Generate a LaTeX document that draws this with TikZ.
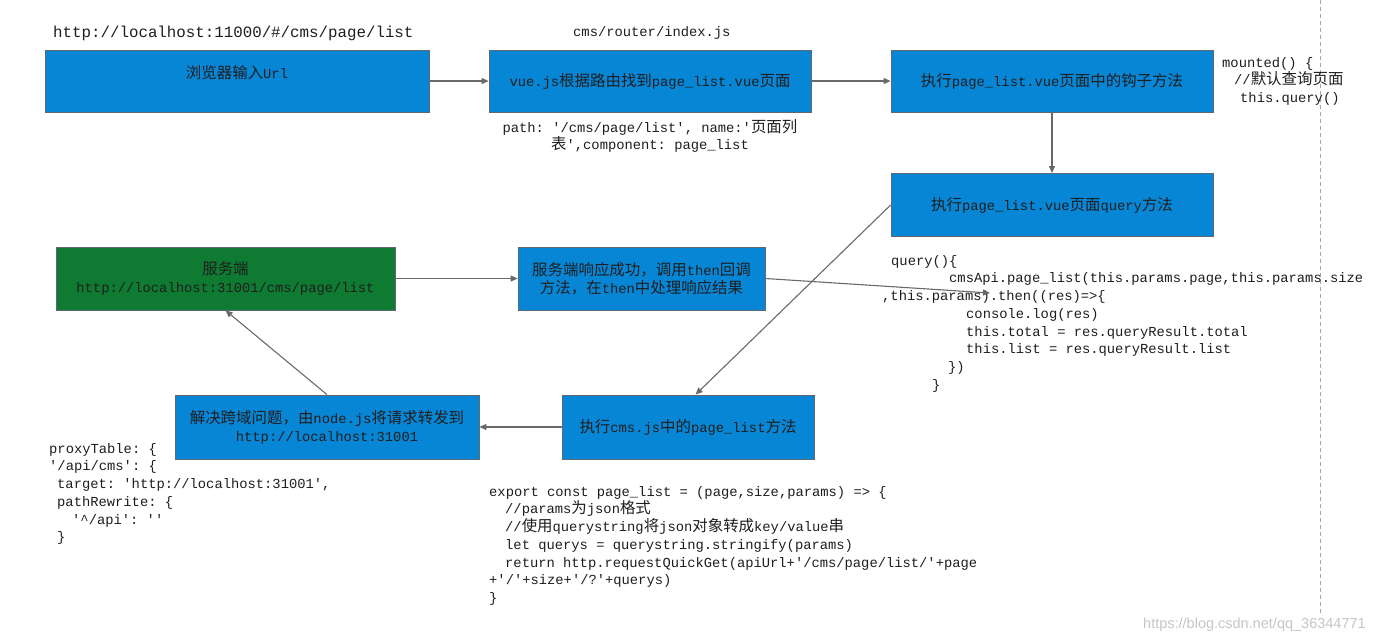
\documentclass[tikz,border=0pt]{standalone}
\usepackage{fontspec}
\setmonofont{Liberation Mono}
\setsansfont{Liberation Sans}
\newfontfamily\cjkfont[Scale=1.12]{Noto Sans CJK SC}
\usetikzlibrary{arrows.meta,calc}
\definecolor{boxblue}{RGB}{7,134,214}
\definecolor{boxgreen}{RGB}{14,122,50}
\definecolor{boxedge}{RGB}{95,105,115}
\definecolor{arrowgray}{RGB}{105,105,105}
\definecolor{txt}{RGB}{30,30,30}
\newcommand\zh[1]{{\cjkfont #1}}
\tikzset{
  box/.style={draw=boxedge, line width=0.8pt, fill=boxblue, text=txt, align=center, inner sep=0pt,
    font=\ttfamily\fontsize{13.8}{18}\selectfont},
  gbox/.style={box, fill=boxgreen},
  code/.style={text=txt, align=left, inner sep=0pt, anchor=north west,
    font=\ttfamily\fontsize{13.8}{17.7}\selectfont},
  arr/.style={draw=arrowgray, line width=1.1pt, -{Triangle[length=7pt,width=6pt]}},
}
\begin{document}
\begin{tikzpicture}[x=1pt,y=-1pt]
\useasboundingbox[fill=white] (0,0) rectangle (1393,643);

% dashed guide
\coordinate (dtop) at (1320,0);
\coordinate (dbot) at (1320,615);
\draw[gray!70, line width=0.8pt, dash pattern=on 4pt off 3pt] (dtop) -- (dbot);

% boxes
\node[box, minimum width=384, minimum height=62] (b1) at (237,81) {\zh{浏览器输入}Url\\\phantom{Url}};
\node[box, minimum width=322, minimum height=62] (b2) at (650,81) {vue.js\zh{根据路由找到}page\_list.vue\zh{页面}};
\node[box, minimum width=322, minimum height=62] (b3) at (1052,81) {\zh{执行}page\_list.vue\zh{页面中的钩子方法}};
\node[box, minimum width=322, minimum height=63] (b4) at (1052,205) {\zh{执行}page\_list.vue\zh{页面}query\zh{方法}};
\node[gbox, minimum width=339, minimum height=63] (b5) at (225.5,278.5) {\zh{服务端}\\http://localhost:31001/cms/page/list};
\node[box, minimum width=247, minimum height=63] (b6) at (641.5,278.5) {\zh{服务端响应成功，调用}then\zh{回调}\\\zh{方法，在}then\zh{中处理响应结果}};
\node[box, minimum width=252, minimum height=64] (b7) at (688,427) {\zh{执行}cms.js\zh{中的}page\_list\zh{方法}};
\node[box, minimum width=304, minimum height=64] (b8) at (327,427) {\zh{解决跨域问题，由}node.js\zh{将请求转发到}\\http://localhost:31001};

% labels
\node[text=txt, inner sep=0pt, anchor=west, font=\ttfamily\fontsize{15.8}{18}\selectfont] (url) at (53,33) {http://localhost:11000/\#/cms/page/list};
\node[text=txt, inner sep=0pt, anchor=west, font=\ttfamily\fontsize{13.8}{18}\selectfont] (router) at (573,33) {cms/router/index.js};
\node[text=txt, inner sep=0pt, align=center, font=\ttfamily\fontsize{13.8}{17}\selectfont] (path) at (650,135.5) {path: '/cms/page/list', name:'\zh{页面列}\\\zh{表}',component: page\_list};

\node[code] (mounted) at (1222,57) {mounted() \{\\\hspace*{12pt}//\zh{默认查询页面}\\\hspace*{18pt}this.query()};

\node[code] (query) at (882,255) {\hspace*{9pt}query()\{\\
\hspace*{67pt}cmsApi.page\_list(this.params.page,this.params.size\\
,this.params).then((res)=>\{\\
\hspace*{84pt}console.log(res)\\
\hspace*{84pt}this.total = res.queryResult.total\\
\hspace*{84pt}this.list = res.queryResult.list\\
\hspace*{66pt}\})\\
\hspace*{50pt}\}};

\node[code] (proxy) at (49,443) {proxyTable: \{\\
'/api/cms': \{\\
\hspace*{8pt}target: 'http://localhost:31001',\\
\hspace*{8pt}pathRewrite: \{\\
\hspace*{23pt}'\textasciicircum/api': ''\\
\hspace*{8pt}\}};

\node[code] (export) at (489,486) {export const page\_list = (page,size,params) => \{\\
\hspace*{16pt}//params\zh{为}json\zh{格式}\\
\hspace*{16pt}//\zh{使用}querystring\zh{将}json\zh{对象转成}key/value\zh{串}\\
\hspace*{16pt}let querys = querystring.stringify(params)\\
\hspace*{16pt}return http.requestQuickGet(apiUrl+'/cms/page/list/'+page\\
+'/'+size+'/?'+querys)\\
\}};

\node[text=gray!45, inner sep=0pt, anchor=west, font=\sffamily\fontsize{14.5}{16}\selectfont] (wm) at (1143,625) {https://blog.csdn.net/qq\_36344771};

% connectors
\coordinate (qend) at (990,293);
\draw[arr] (b1) -- (b2);
\draw[arr] (b2) -- (b3);
\draw[arr] (b3) -- (b4);
\draw[arr] (b5) -- (b6);
\draw[arr] (b6.east) -- (qend);
\draw[arr] (b4.west) -- ($(b7.north west)!0.53!(b7.north east)$);
\draw[arr] (b7) -- (b8);
\draw[arr] (b8.north) -- (b5.south);
\end{tikzpicture}
\end{document}
